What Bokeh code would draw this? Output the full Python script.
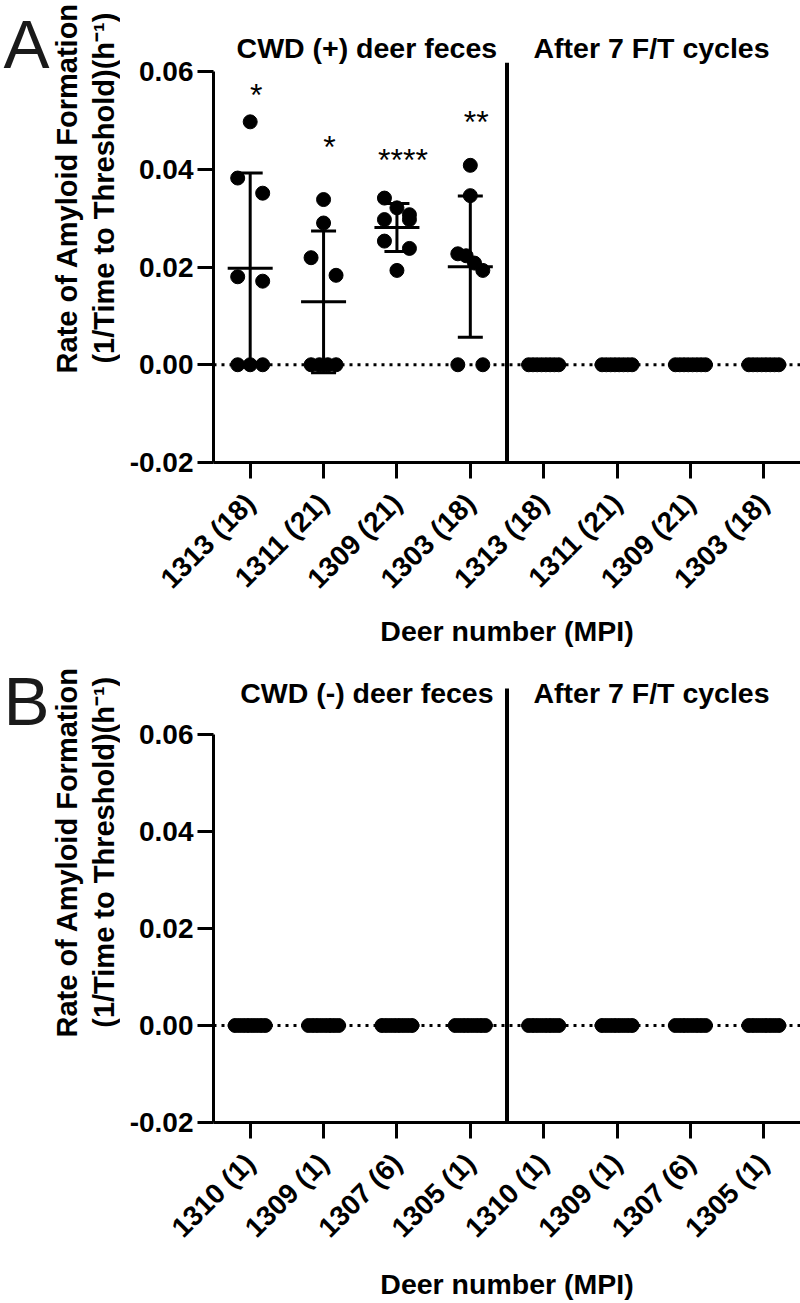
import math
from bokeh.plotting import figure
from bokeh.layouts import column, row
from bokeh.models import FixedTicker, NumeralTickFormatter, Span, Label, Range1d
from bokeh.core.properties import value
from bokeh.embed import file_html
from bokeh.resources import INLINE

# ---------------- data ----------------
labels_A = ["1313 (18)", "1311 (21)", "1309 (21)", "1303 (18)"]
labels_B = ["1310 (1)", "1309 (1)", "1307 (6)", "1305 (1)"]
sections_A = ["CWD (+) deer feces", "After 7 F/T cycles"]
sections_B = ["CWD (-) deer feces", "After 7 F/T cycles"]

A_1313 = [0.0497, 0.0382, 0.0351, 0.0180, 0.0171, 0.0, 0.0, 0.0]
A_1311 = [0.0338, 0.0290, 0.0219, 0.0183, 0.0, 0.0, 0.0, 0.0]
A_1309 = [0.0341, 0.0321, 0.0307, 0.0297, 0.0297, 0.0253, 0.0238, 0.0193]
A_1303 = [0.0408, 0.0346, 0.0227, 0.0223, 0.0208, 0.0193, 0.0, 0.0]
A_FT_1313 = [0.0, 0.0, 0.0, 0.0, 0.0, 0.0, 0.0, 0.0]
A_FT_1311 = [0.0, 0.0, 0.0, 0.0, 0.0, 0.0, 0.0, 0.0]
A_FT_1309 = [0.0, 0.0, 0.0, 0.0, 0.0, 0.0, 0.0, 0.0]
A_FT_1303 = [0.0, 0.0, 0.0, 0.0, 0.0, 0.0, 0.0, 0.0]

B_1310 = [0.0, 0.0, 0.0, 0.0, 0.0, 0.0, 0.0, 0.0]
B_1309 = [0.0, 0.0, 0.0, 0.0, 0.0, 0.0, 0.0, 0.0]
B_1307 = [0.0, 0.0, 0.0, 0.0, 0.0, 0.0, 0.0, 0.0]
B_1305 = [0.0, 0.0, 0.0, 0.0, 0.0, 0.0, 0.0, 0.0]
B_FT_1310 = [0.0, 0.0, 0.0, 0.0, 0.0, 0.0, 0.0, 0.0]
B_FT_1309 = [0.0, 0.0, 0.0, 0.0, 0.0, 0.0, 0.0, 0.0]
B_FT_1307 = [0.0, 0.0, 0.0, 0.0, 0.0, 0.0, 0.0, 0.0]
B_FT_1305 = [0.0, 0.0, 0.0, 0.0, 0.0, 0.0, 0.0, 0.0]

stars_A = ["*", "*", "****", "**"]
stars_A_y = [0.0552, 0.0446, 0.0419, 0.0497]

y_ticks = [-0.02, 0.0, 0.02, 0.04, 0.06]
x_title = "Deer number (MPI)"
y_title_1 = "Rate of Amyloid Formation"
y_title_2 = "(1/Time to Threshold)(h\u207b\u00b9)"

FONT = "Liberation Sans"
LEFT_W = 120          # width of the strip holding letter + y title
MAIN_W = 680          # width of the plotting figure
FRAME_LEFT = 93       # left border of plotting figure (tick labels)


def swarm(vals, px_y, px_x, row_px=18.0, pair_px=12.5, wide_px=15.0):
    """deterministic row-based scatter spreading (Prism-like)"""
    order = sorted(range(len(vals)), key=lambda i: -vals[i])
    rows, cur = [], []
    for i in order:
        if cur and (vals[cur[0]] - vals[i]) * px_y > row_px:
            rows.append(cur)
            cur = []
        cur.append(i)
    rows.append(cur)
    off = [0.0] * len(vals)
    for rw in rows:
        n = len(rw)
        if n < 2:
            continue
        half = pair_px if n <= 4 else wide_px
        for k, i in enumerate(rw):
            off[i] = (-half + 2 * half * k / (n - 1)) / px_x
    return off


def mean_sd(v):
    m = sum(v) / len(v)
    s = math.sqrt(sum((a - m) ** 2 for a in v) / (len(v) - 1))
    return m, s


def left_strip(letter, h, letter_base, title_center):
    s = figure(width=LEFT_W, height=h, x_range=Range1d(0, LEFT_W), y_range=Range1d(h, 0),
               output_backend="svg", toolbar_location=None,
               min_border_left=0, min_border_right=0, min_border_top=0, min_border_bottom=0)
    s.axis.visible = False
    s.grid.visible = False
    s.outline_line_color = None
    s.text([3], [letter_base], text=[letter], text_font=value(FONT),
           text_font_size="69px", text_color="#1a1a1a",
           text_align="left", text_baseline="alphabetic")
    s.text([66, 103], [title_center, title_center], text=[y_title_1, y_title_2],
           angle=math.pi / 2, text_font=value(FONT), text_font_style="bold",
           text_font_size="29px", text_color="black",
           text_align="center", text_baseline="middle")
    return s


def make_panel(cats, groups, sections, stars, stars_y,
               fig_h, frame_h, ppu, sep_top, title_base, x_standoff):
    ncat = len(groups)
    x0, x1 = -0.5, ncat - 0.5
    px_x = (MAIN_W - FRAME_LEFT) / (x1 - x0)
    px_y = ppu / 0.02
    ytop = -0.02 + frame_h / px_y
    bottom = fig_h - frame_h

    p = figure(width=MAIN_W, height=fig_h, x_range=(x0, x1), y_range=(-0.02, ytop),
               output_backend="svg", toolbar_location=None,
               min_border_left=FRAME_LEFT, min_border_right=0,
               min_border_top=0, min_border_bottom=bottom)
    p.outline_line_color = None
    p.grid.visible = False

    xa, ya = p.xaxis[0], p.yaxis[0]
    for ax in (xa, ya):
        ax.axis_line_width = 3
        ax.axis_line_color = "black"
        ax.major_tick_line_width = 3
        ax.major_tick_line_color = "black"
        ax.major_tick_out = 16
        ax.major_tick_in = 0
        ax.minor_tick_line_color = None
        ax.major_label_text_font = FONT
        ax.major_label_text_font_style = "bold"
        ax.major_label_text_color = "black"
        ax.axis_label_text_font = FONT
        ax.axis_label_text_font_style = "bold"
        ax.axis_label_text_color = "black"
    ya.ticker = FixedTicker(ticks=y_ticks)
    ya.formatter = NumeralTickFormatter(format="0.00")
    ya.bounds = (-0.02, 0.06)
    ya.major_label_text_font_size = "28px"
    ya.major_label_standoff = 4

    all_labels = cats + cats
    xa.ticker = FixedTicker(ticks=list(range(ncat)))
    xa.major_label_overrides = {i: lab for i, lab in enumerate(all_labels)}
    xa.major_label_orientation = math.pi / 4
    xa.major_label_text_font_size = "28px"
    xa.major_label_standoff = 20
    xa.axis_label = x_title
    xa.axis_label_text_font_size = "28.5px"
    xa.axis_label_standoff = x_standoff

    # zero dotted line & separator
    p.add_layout(Span(location=0.0, dimension="width", line_color="black",
                      line_width=3, line_dash="3 5"))
    sx = len(cats) - 0.5
    p.segment([sx], [-0.02 - 2 / px_y], [sx], [sep_top], line_width=4, color="black")

    # points
    xs, ys = [], []
    for gi, vals in enumerate(groups):
        off = swarm(vals, px_y, px_x)
        xs += [gi + o for o in off]
        ys += vals
    p.scatter(xs, ys, size=14, color="black", line_color="black")

    # mean & SD
    mh = 22.5 / px_x
    ch = 12.5 / px_x
    mx0, mx1, my = [], [], []
    vx, vy0, vy1 = [], [], []
    cx0, cx1, cy = [], [], []
    for gi, vals in enumerate(groups):
        m, s = mean_sd(vals)
        mx0.append(gi - mh); mx1.append(gi + mh); my.append(m)
        if s > 0:
            vx.append(gi); vy0.append(m - s); vy1.append(m + s)
            for yy in (m - s, m + s):
                cx0.append(gi - ch); cx1.append(gi + ch); cy.append(yy)
    p.segment(mx0, my, mx1, my, line_width=3, color="black")
    p.segment(vx, vy0, vx, vy1, line_width=3, color="black")
    p.segment(cx0, cy, cx1, cy, line_width=3, color="black")

    # significance stars
    if stars:
        p.text([i + 6 / px_x for i in range(len(stars))], stars_y, text=stars,
               text_align="center", text_baseline="alphabetic",
               text_font=value(FONT), text_font_size="32px", text_color="black")

    # section titles (inside the frame, above the data)
    ty = ytop - title_base / px_y
    for txt, cx in zip(sections, [(len(cats) - 1) / 2 + 0.09,
                                  len(cats) + (len(cats) - 1) / 2 - 0.03]):
        p.add_layout(Label(x=cx, y=ty, text=txt, text_align="center",
                           text_baseline="alphabetic", text_font=FONT,
                           text_font_style="bold", text_font_size="28.5px",
                           text_color="black"))
    return p


groups_A = [A_1313, A_1311, A_1309, A_1303, A_FT_1313, A_FT_1311, A_FT_1309, A_FT_1303]
groups_B = [B_1310, B_1309, B_1307, B_1305, B_FT_1310, B_FT_1309, B_FT_1307, B_FT_1305]

H_A = 655
H_B = 1303 - H_A

pA = make_panel(labels_A, groups_A, sections_A, stars_A, stars_A_y,
                fig_h=H_A, frame_h=462, ppu=97.75, sep_top=0.0618,
                title_base=47, x_standoff=7)
pB = make_panel(labels_B, groups_B, sections_B, [], [],
                fig_h=H_B, frame_h=467, ppu=97.0, sep_top=0.0695,
                title_base=37, x_standoff=11)
sA = left_strip("A", H_A, 62, 266)
sB = left_strip("B", H_B, 64, 273)

layout = column(row(sA, pA), row(sB, pB))
open("out.html", "w").write(file_html(layout, INLINE))
